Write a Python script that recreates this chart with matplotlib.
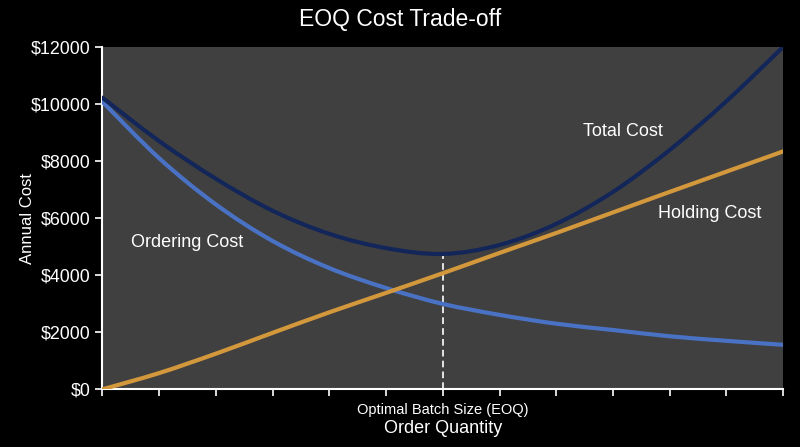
import numpy as np
import matplotlib
matplotlib.use("Agg")
import matplotlib.pyplot as plt
from matplotlib.path import Path
from matplotlib.patches import PathPatch
from matplotlib.ticker import FuncFormatter

# values at each x tick (order quantity steps)
qty = list(range(13))
ordering_cost = [10080, 8100, 6480, 5200, 4250, 3550, 2995, 2610, 2300, 2080, 1860, 1700, 1560]
holding_cost = [0, 570, 1250, 1980, 2700, 3380, 4070, 4780, 5480, 6200, 6920, 7630, 8340]
total_cost = [10220, 8700, 7380, 6260, 5450, 4950, 4745, 5060, 5800, 6920, 8390, 10100, 12000]
eoq_pos = 6
y_ticks = [0, 2000, 4000, 6000, 8000, 10000, 12000]

plt.rcParams['font.family'] = ['Liberation Sans', 'DejaVu Sans']


def smooth_path(x, y):
    # Catmull-Rom style bezier through the points, like a spreadsheet "smoothed line"
    x = np.asarray(x, float)
    y = np.asarray(y, float)
    pts = np.column_stack([x, y])
    verts = [pts[0]]
    codes = [Path.MOVETO]
    n = len(pts)
    for i in range(n - 1):
        p0 = pts[i - 1] if i > 0 else pts[i]
        p1 = pts[i]
        p2 = pts[i + 1]
        p3 = pts[i + 2] if i + 2 < n else pts[i + 1]
        c1 = p1 + (p2 - p0) / 6.0
        c2 = p2 - (p3 - p1) / 6.0
        verts += [c1, c2, p2]
        codes += [Path.CURVE4] * 3
    return Path(verts, codes)


fig = plt.figure(figsize=(8, 4.47), dpi=100, facecolor='black')
ax = fig.add_axes([0.128, 0.129, 0.851, 0.766])
ax.set_facecolor('#404040')

for vals, col in [(ordering_cost, '#4a72c4'),
                  (holding_cost, '#d4983c'),
                  (total_cost, '#132659')]:
    ax.add_patch(PathPatch(smooth_path(qty, vals), facecolor='none',
                           edgecolor=col, lw=3, capstyle='round', zorder=3))

ax.plot([eoq_pos, eoq_pos], [0, total_cost[eoq_pos]], color='white',
        lw=1.2, ls=(0, (4, 2.5)), zorder=2)

ax.set_xlim(0, 12)
ax.set_ylim(0, 12000)
ax.set_yticks(y_ticks)
ax.yaxis.set_major_formatter(FuncFormatter(lambda v, p: '$%d' % v))
ax.set_xticks(qty)
ax.set_xticklabels(['' if q != eoq_pos else 'Optimal Batch Size (EOQ)' for q in qty])

for s in ['top', 'right']:
    ax.spines[s].set_visible(False)
for s in ['left', 'bottom']:
    ax.spines[s].set_color('white')
    ax.spines[s].set_linewidth(1.5)
ax.tick_params(colors='white', width=1.2, length=5)
ax.tick_params(axis='y', labelsize=12.9)
ax.tick_params(axis='x', labelsize=10.5, pad=5)

ax.text(9.18, 9050, 'Total Cost', color='white', fontsize=13, ha='center', va='center')
ax.text(10.7, 6150, 'Holding Cost', color='white', fontsize=13, ha='center', va='center')
ax.text(1.49, 5130, 'Ordering Cost', color='white', fontsize=13, ha='center', va='center')

ax.set_xlabel('Order Quantity', color='white', fontsize=13, labelpad=2)
ax.set_ylabel('Annual Cost', color='white', fontsize=12, labelpad=-3)
fig.text(0.5, 0.957, 'EOQ Cost Trade-off', color='white', fontsize=16.5, ha='center', va='center')

fig.savefig('out.png', dpi=100, facecolor='black')
